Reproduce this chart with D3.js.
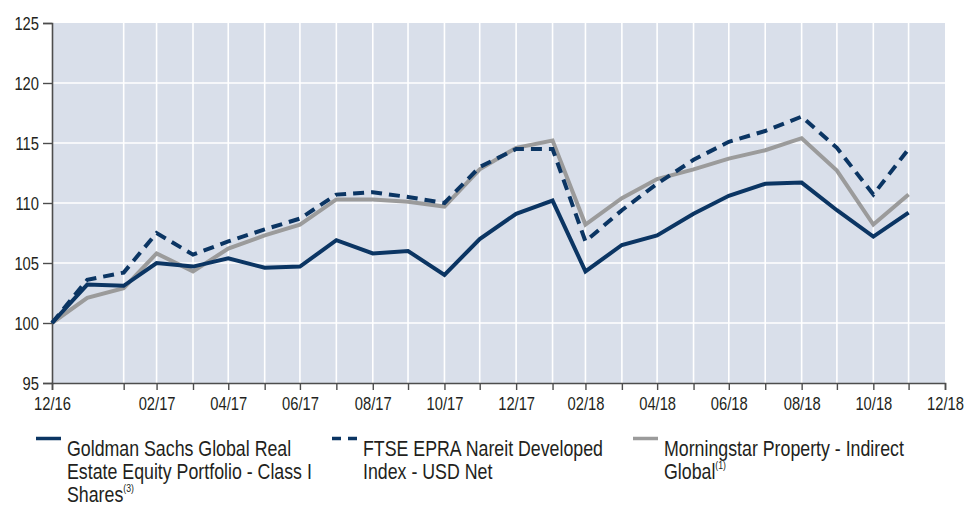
<!DOCTYPE html>
<html>
<head>
<meta charset="utf-8">
<script src="https://cdn.jsdelivr.net/npm/d3@7"></script>
<style>
  body { margin: 0; background: #fff; }
  svg text { font-family: "Liberation Sans", Arial, sans-serif; fill: #231f20; }
</style>
</head>
<body>
<div id="chart"></div>
<script>
// data points: inception, then month ends
const dates = ['2016-12-01', '2016-12-31', '2017-01-31', '2017-02-28', '2017-03-31', '2017-04-30',
    '2017-05-31', '2017-06-30', '2017-07-31', '2017-08-31', '2017-09-30', '2017-10-31',
    '2017-11-30', '2017-12-31', '2018-01-31', '2018-02-28', '2018-03-31', '2018-04-30',
    '2018-05-31', '2018-06-30', '2018-07-31', '2018-08-31', '2018-09-30', '2018-10-31', '2018-11-30'];

const goldman = [100, 103.2, 103.1, 105.0, 104.7, 105.4, 104.6, 104.7, 106.9, 105.8, 106.0, 104.0,
    107.0, 109.1, 110.2, 104.3, 106.5, 107.3, 109.1, 110.6, 111.6, 111.7, 109.4, 107.2, 109.2];
const ftse = [100, 103.6, 104.2, 107.5, 105.7, 106.8, 107.8, 108.7, 110.7, 110.9, 110.5, 110.0,
    113.0, 114.5, 114.5, 106.8, 109.4, 111.6, 113.6, 115.1, 116.0, 117.2, 114.6, 110.7, 114.5];
const morningstar = [100, 102.1, 102.9, 105.8, 104.3, 106.2, 107.3, 108.2, 110.3, 110.3, 110.1, 109.7,
    112.8, 114.6, 115.2, 108.2, 110.4, 112.0, 112.8, 113.7, 114.4, 115.4, 112.7, 108.2, 110.7];

const tickDates = ['2016-12-01', '2017-01-31', '2017-02-28', '2017-03-31', '2017-04-30', '2017-05-31',
    '2017-06-30', '2017-07-31', '2017-08-31', '2017-09-30', '2017-10-31', '2017-11-30', '2017-12-31',
    '2018-01-31', '2018-02-28', '2018-03-31', '2018-04-30', '2018-05-31', '2018-06-30', '2018-07-31',
    '2018-08-31', '2018-09-30', '2018-10-31', '2018-11-30', '2018-12-31'];
const tickLabels = ['12/16', '', '02/17', '', '04/17', '', '06/17', '', '08/17', '', '10/17', '', '12/17',
    '', '02/18', '', '04/18', '', '06/18', '', '08/18', '', '10/18', '', '12/18'];

const yTicks = [95, 100, 105, 110, 115, 120, 125];

const legendItems = [
    { lines: ['Goldman Sachs Global Real', 'Estate Equity Portfolio - Class I', 'Shares'], note: '(3)', color: '#0b3563', dash: null, x: 36 },
    { lines: ['FTSE EPRA Nareit Developed', 'Index - USD Net'], note: '', color: '#0b3563', dash: '9,7', x: 332 },
    { lines: ['Morningstar Property - Indirect', 'Global'], note: '(1)', color: '#9b9b9b', dash: null, x: 633 }
];

const width = 967, height = 506;
const margin = { top: 23, right: 22, bottom: 123, left: 52 };
const narrow = 0.82; // squeeze Liberation Sans to look like a condensed face
const parse = d3.timeParse('%Y-%m-%d');

const svg = d3.select('#chart').append('svg')
    .attr('width', width)
    .attr('height', height);

const x = d3.scaleTime()
    .domain([parse(tickDates[0]), parse(tickDates[tickDates.length - 1])])
    .range([margin.left, width - margin.right]);

const y = d3.scaleLinear()
    .domain([95, 125])
    .range([height - margin.bottom, margin.top]);

// plot background
svg.append('rect')
    .attr('x', x.range()[0])
    .attr('y', y(125))
    .attr('width', x.range()[1] - x.range()[0])
    .attr('height', y(95) - y(125))
    .attr('fill', '#d9dfea');

// grid
svg.append('g')
    .selectAll('line')
    .data(yTicks.filter(d => d > 95 && d < 125))
    .join('line')
    .attr('x1', x.range()[0])
    .attr('x2', x.range()[1])
    .attr('y1', d => y(d))
    .attr('y2', d => y(d))
    .attr('stroke', '#fff')
    .attr('stroke-width', 1.6);

svg.append('g')
    .selectAll('line')
    .data(tickDates.slice(1, -1))
    .join('line')
    .attr('x1', d => x(parse(d)))
    .attr('x2', d => x(parse(d)))
    .attr('y1', y(125))
    .attr('y2', y(95))
    .attr('stroke', '#fff')
    .attr('stroke-width', 1.6);

// axes
const yAxis = svg.append('g')
    .attr('transform', `translate(${margin.left},0)`)
    .call(d3.axisLeft(y).tickValues(yTicks).tickSize(9).tickPadding(4));

const xAxis = svg.append('g')
    .attr('transform', `translate(0,${y(95)})`)
    .call(d3.axisBottom(x)
        .tickValues(tickDates.map(parse))
        .tickFormat((d, i) => tickLabels[i])
        .tickSize(7)
        .tickPadding(7));

[yAxis, xAxis].forEach(g => {
    g.select('.domain').attr('stroke', '#4d4d4d').attr('stroke-width', 1.6);
    g.selectAll('.tick line').attr('stroke', '#4d4d4d').attr('stroke-width', 1.4);
    g.selectAll('.tick text')
        .attr('font-size', 18)
        .attr('fill', '#231f20')
        .attr('transform', `scale(${narrow},1)`)
        .style('font-family', '"Liberation Sans", Arial, sans-serif');
});
yAxis.selectAll('.tick text')
    .attr('x', -13 / narrow)
    .attr('dy', '0.36em');

// lines
const line = d3.line()
    .x((d, i) => x(parse(dates[i])))
    .y(d => y(d));

const series = [
    { values: morningstar, color: '#9b9b9b', dash: null },
    { values: ftse, color: '#0b3563', dash: '11,7' },
    { values: goldman, color: '#0b3563', dash: null }
];

svg.append('g')
    .selectAll('path')
    .data(series)
    .join('path')
    .attr('d', d => line(d.values))
    .attr('fill', 'none')
    .attr('stroke', d => d.color)
    .attr('stroke-width', 4)
    .attr('stroke-dasharray', d => d.dash)
    .attr('stroke-linejoin', 'miter');

// legend
const legend = svg.append('g');
legendItems.forEach(item => {
    const g = legend.append('g');
    g.append('line')
        .attr('x1', item.x)
        .attr('x2', item.x + 25)
        .attr('y1', 438.5)
        .attr('y2', 438.5)
        .attr('stroke', item.color)
        .attr('stroke-width', 3.5)
        .attr('stroke-dasharray', item.dash);

    const t = g.append('text')
        .attr('transform', `translate(${item.x + 31},456) scale(0.79,1)`)
        .attr('font-size', 22.5);
    item.lines.forEach((ln, i) => {
        t.append('tspan')
            .attr('x', 0)
            .attr('dy', i === 0 ? 0 : 23)
            .text(ln);
    });
    if (item.note) {
        t.append('tspan')
            .attr('font-size', 11)
            .attr('dy', -10)
            .text(item.note);
    }
});
</script>
</body>
</html>
